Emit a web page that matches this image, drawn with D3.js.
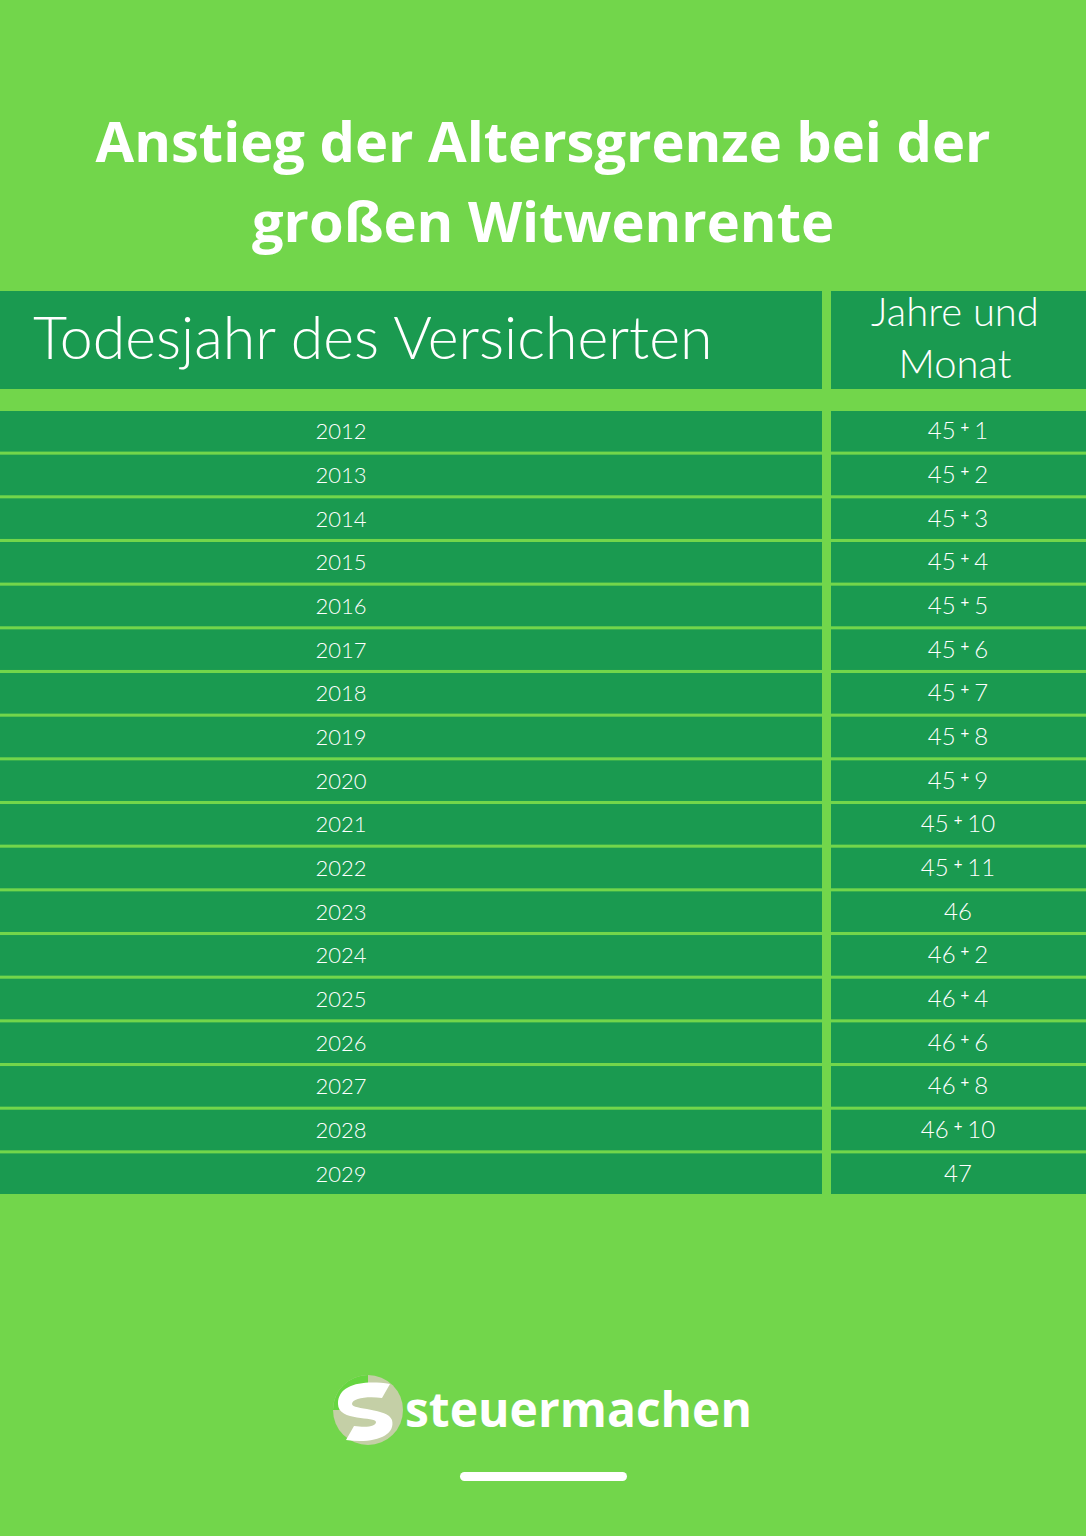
<!DOCTYPE html>
<html>
<head>
<meta charset="utf-8">
<script src="https://cdn.jsdelivr.net/npm/d3@7"></script>
<style>
  html, body { margin: 0; padding: 0; background: #72d64b; }
  svg { display: block; }
</style>
</head>
<body>
<div id="chart"></div>
<script>
// table data
var titleLines = ["Anstieg der Altersgrenze bei der", "großen Witwenrente"];
var colHeader1 = "Todesjahr des Versicherten";
var colHeader2 = ["Jahre und", "Monat"];
var years = ["2012", "2013", "2014", "2015", "2016", "2017", "2018", "2019", "2020",
             "2021", "2022", "2023", "2024", "2025", "2026", "2027", "2028", "2029"];
var ageYears = [45, 45, 45, 45, 45, 45, 45, 45, 45, 45, 45, 46, 46, 46, 46, 46, 46, 47];
var ageMonths = [1, 2, 3, 4, 5, 6, 7, 8, 9, 10, 11, 0, 2, 4, 6, 8, 10, 0];
var brand = "steuermachen";

var W = 1086, H = 1536;
var bg = "#72d64b", dark = "#1a9a50";

var svg = d3.select("#chart").append("svg")
    .attr("width", W).attr("height", H);

svg.append("rect").attr("width", W).attr("height", H).attr("fill", bg);

// title
svg.selectAll("text.title")
    .data(titleLines)
    .enter().append("text")
    .attr("class", "title")
    .attr("x", W / 2)
    .attr("y", function(d, i) { return 162 + i * 80; })
    .attr("text-anchor", "middle")
    .attr("fill", "#fff")
    .style("font-family", "'Open Sans', sans-serif")
    .style("font-weight", 700)
    .style("font-size", "56px")
    .text(function(d) { return d; });

// columns
var colX = d3.scaleOrdinal().domain(["year", "age"]).range([0, 831]);
var colW = d3.scaleOrdinal().domain(["year", "age"]).range([822, 255]);
var colMid = function(c) { return c == "year" ? 341 : 958; };

// header
["year", "age"].forEach(function(c) {
    svg.append("rect")
        .attr("x", colX(c)).attr("y", 291)
        .attr("width", colW(c)).attr("height", 98)
        .attr("fill", dark);
});

svg.append("text")
    .attr("x", 33).attr("y", 359)
    .attr("fill", "#fff")
    .style("font-family", "Lato, sans-serif")
    .style("font-weight", 300)
    .style("font-size", "59px")
    .text(colHeader1);

svg.selectAll("text.h2")
    .data(colHeader2)
    .enter().append("text")
    .attr("class", "h2")
    .attr("x", 955)
    .attr("y", function(d, i) { return 326 + i * 52; })
    .attr("text-anchor", "middle")
    .attr("fill", "#fff")
    .style("font-family", "Lato, sans-serif")
    .style("font-weight", 300)
    .style("font-size", "40px")
    .text(function(d) { return d; });

// rows
var y = d3.scaleBand()
    .domain(years)
    .range([411, 1194])
    .paddingInner(0.07);

var rows = svg.selectAll("g.row")
    .data(years.map(function(d, i) { return {year: d, y: ageYears[i], m: ageMonths[i]}; }))
    .enter().append("g")
    .attr("class", "row")
    .attr("transform", function(d) { return "translate(0," + y(d.year) + ")"; });

["year", "age"].forEach(function(c) {
    rows.append("rect")
        .attr("x", colX(c)).attr("y", 0)
        .attr("width", colW(c)).attr("height", y.bandwidth())
        .attr("fill", dark);
});

rows.append("text")
    .attr("x", colMid("year"))
    .attr("y", y.bandwidth() / 2 + 8)
    .attr("text-anchor", "middle")
    .attr("fill", "#fff")
    .style("font-family", "Lato, sans-serif")
    .style("font-weight", 300)
    .style("font-size", "22px")
    .text(function(d) { return d.year; });

var ageText = rows.append("text")
    .attr("x", colMid("age"))
    .attr("y", y.bandwidth() / 2 + 8)
    .attr("text-anchor", "middle")
    .attr("fill", "#fff")
    .style("font-family", "Lato, sans-serif")
    .style("font-weight", 300)
    .style("font-size", "24px");

ageText.append("tspan").text(function(d) { return d.y; });
ageText.filter(function(d) { return d.m > 0; })
    .append("tspan")
    .attr("dx", 5).attr("dy", -7)
    .style("font-size", "15px")
    .style("font-weight", 400)
    .text("+");
ageText.filter(function(d) { return d.m > 0; })
    .append("tspan")
    .attr("dx", 5).attr("dy", 7)
    .text(function(d) { return d.m; });

// logo
var logo = svg.append("g").attr("transform", "translate(368,1410)");
logo.append("circle").attr("r", 35).attr("fill", "#c4cfa6");
logo.append("path")
    .attr("d", "M-35,0 A35,35 0 0 1 0,-35 L0,-20 C-14,-20 -24,-12 -24,0 Z")
    .attr("fill", "#66d640");
logo.append("path")
    .attr("d", "M-30,-6 C-30,-26 -5,-30 22,-26 L14,-12 C0,-14 -16,-12 -16,-6 C-16,0 20,-2 24,10 C28,26 6,34 -22,30 L-14,16 C0,18 8,16 8,12 C8,6 -30,12 -30,-6 Z")
    .attr("fill", "#fff");

svg.append("text")
    .attr("x", 405).attr("y", 1427)
    .attr("fill", "#fff")
    .style("font-family", "'Open Sans', sans-serif")
    .style("font-weight", 700)
    .style("font-size", "48px")
    .text(brand);

svg.append("rect")
    .attr("x", 460).attr("y", 1472)
    .attr("width", 167).attr("height", 9)
    .attr("rx", 4.5)
    .attr("fill", "#fff");
</script>
</body>
</html>
